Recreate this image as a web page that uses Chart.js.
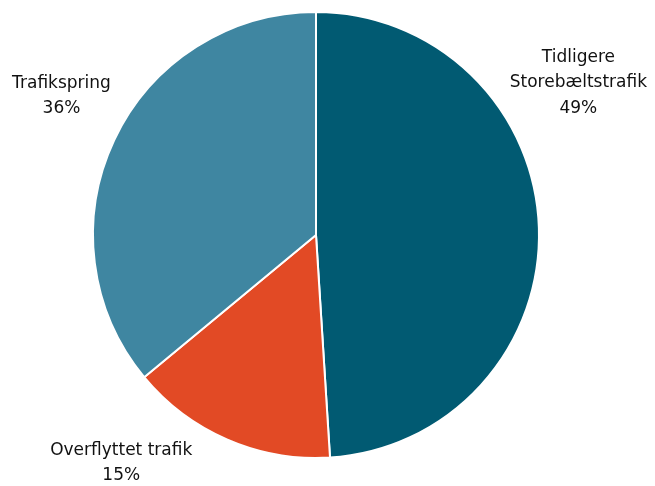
<!DOCTYPE html>
<html>
<head>
<meta charset="utf-8">
<script src="https://cdn.jsdelivr.net/npm/chart.js@4"></script>
<style>
  html, body { margin: 0; padding: 0; background: #ffffff; }
  #wrap { width: 655px; height: 486px; }
</style>
</head>
<body>
<div id="wrap"><canvas id="c" width="655" height="486"></canvas></div>
<script>
// Traffic composition shares (percent)
const categories = [['Tidligere', 'Storebæltstrafik'], ['Overflyttet trafik'], ['Trafikspring']];
const shares = [49, 15, 36];
const colors = ['#015a72', '#e24a25', '#3f86a1'];

// Label placement per slice: angle (degrees clockwise from 12 o'clock) and distance as multiple of radius
const labelAngles = [59.9, 220.5, 298.6];
const labelDist = [1.36, 1.345, 1.30];

const outsideLabels = {
  id: 'outsideLabels',
  afterDatasetsDraw(chart) {
    const ctx = chart.ctx;
    const arc = chart.getDatasetMeta(0).data[0];
    const cx = arc.x, cy = arc.y, r = arc.outerRadius;
    ctx.save();
    ctx.fillStyle = '#111111';
    ctx.font = '17px "DejaVu Sans", sans-serif';
    ctx.textAlign = 'center';
    ctx.textBaseline = 'middle';
    const lineH = 25.5;
    categories.forEach((cat, i) => {
      const a = labelAngles[i] * Math.PI / 180;
      const x = cx + Math.sin(a) * r * labelDist[i];
      const y = cy - Math.cos(a) * r * labelDist[i];
      const lines = cat.concat([shares[i] + '%']);
      const top = y - (lines.length - 1) * lineH / 2;
      lines.forEach((t, j) => ctx.fillText(t, x, top + j * lineH));
    });
    ctx.restore();
  }
};

new Chart(document.getElementById('c'), {
  type: 'pie',
  data: {
    labels: categories.map(c => c.join(' ')),
    datasets: [{
      data: shares,
      backgroundColor: colors,
      borderColor: '#ffffff',
      borderWidth: 2
    }]
  },
  options: {
    responsive: false,
    animation: false,
    layout: { padding: { left: 92, right: 115, top: 11, bottom: 27 } },
    plugins: { legend: { display: false }, tooltip: { enabled: false } }
  },
  plugins: [outsideLabels]
});
</script>
</body>
</html>
